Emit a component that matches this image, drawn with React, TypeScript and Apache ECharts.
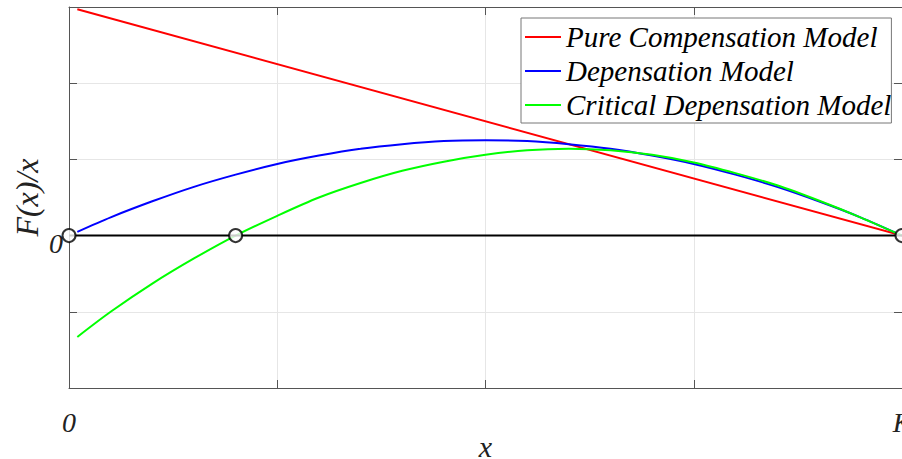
import React, { useEffect, useRef } from "react";
import * as echarts from "echarts";

// x as a fraction of K
const xs = [0.01, 0.05, 0.1, 0.15, 0.2, 0.25, 0.3, 0.35, 0.4, 0.45, 0.5, 0.55, 0.6, 0.65, 0.7, 0.75, 0.8, 0.85, 0.9, 0.95, 1.0];
const pureX = [0.01, 1.0];
const pureY = [2.97, 0.0];
const depensationY = [0.05, 0.24, 0.45, 0.64, 0.8, 0.94, 1.05, 1.14, 1.2, 1.24, 1.25, 1.24, 1.2, 1.14, 1.05, 0.94, 0.8, 0.64, 0.45, 0.24, 0.0];
const criticalY = [-1.33, -1.0, -0.63, -0.3, 0.0, 0.26, 0.5, 0.69, 0.85, 0.97, 1.06, 1.12, 1.14, 1.12, 1.06, 0.96, 0.82, 0.66, 0.46, 0.24, 0.0];
const zeroLineX = [0, 1];
const equilibriaX = [0, 0.2, 1];
const seriesNames = ["Pure Compensation Model", "Depensation Model", "Critical Depensation Model"];
const xTickLabels: Record<string, string> = { "0": "0", "1": "K" };
const yTickLabels: Record<string, string> = { "0": "0" };

const serif = "Liberation Serif";

export default function App() {
  const ref = useRef<HTMLDivElement>(null);
  useEffect(() => {
    if (!ref.current) return;
    const chart = echarts.init(ref.current, undefined, { renderer: "svg" });
    const axisLineStyle = { color: "#555", width: 1 };
    const gridLine = { show: true, lineStyle: { color: "#e6e6e6", width: 1 } };
    chart.setOption({
      animation: false,
      backgroundColor: "#fff",
      grid: { left: 69, top: 7, width: 833, height: 381, containLabel: false, outerBoundsMode: "none" },
      legend: {
        data: seriesNames,
        orient: "vertical",
        left: 521,
        top: 18,
        backgroundColor: "#fff",
        borderColor: "#777",
        borderWidth: 1,
        borderRadius: 0,
        padding: [2, 0, 1, 4],
        itemGap: 0,
        itemWidth: 36,
        itemHeight: 2,
        icon: "rect",
        selectedMode: false,
        textStyle: {
          fontFamily: serif,
          fontStyle: "italic",
          fontSize: 29,
          color: "#000",
          lineHeight: 16,
          padding: [18, 0, 0, 0],
        },
      },
      xAxis: [
        {
          type: "value",
          min: 0,
          max: 1,
          interval: 0.25,
          name: "x",
          nameLocation: "middle",
          nameGap: 48,
          nameMoveOverlap: false,
          nameTextStyle: { fontFamily: serif, fontStyle: "italic", fontSize: 30, lineHeight: 20, color: "#222" },
          axisLine: { show: true, onZero: false, lineStyle: axisLineStyle },
          axisTick: { show: true, inside: true, length: 8, lineStyle: axisLineStyle },
          splitLine: gridLine,
          axisLabel: {
            show: true,
            showMinLabel: true,
            showMaxLabel: true,
            margin: 20,
            fontFamily: serif,
            fontStyle: "italic",
            fontSize: 28,
            color: "#222",
            formatter: (v: number) => xTickLabels[String(v)] ?? "",
          },
        },
        {
          type: "value",
          position: "top",
          min: 0,
          max: 1,
          interval: 0.25,
          axisLine: { show: true, onZero: false, lineStyle: axisLineStyle },
          axisTick: { show: true, inside: true, length: 8, lineStyle: axisLineStyle },
          splitLine: { show: false },
          axisLabel: { show: false },
        },
      ],
      yAxis: [
        {
          type: "value",
          min: -2,
          max: 3,
          interval: 1,
          name: "F(x)/x",
          nameLocation: "middle",
          nameGap: 26,
          nameMoveOverlap: false,
          nameTextStyle: { fontFamily: serif, fontStyle: "italic", fontSize: 32, color: "#222" },
          axisLine: { show: true, onZero: false, lineStyle: axisLineStyle },
          axisTick: { show: true, inside: true, length: 8, lineStyle: axisLineStyle },
          splitLine: gridLine,
          axisLabel: {
            show: true,
            margin: 6,
            fontFamily: serif,
            fontStyle: "italic",
            fontSize: 28,
            lineHeight: 16,
            color: "#222",
            formatter: (v: number) => {
              const s = yTickLabels[String(v)];
              return s ? "\n" + s : "";
            },
          },
        },
        {
          type: "value",
          position: "right",
          min: -2,
          max: 3,
          interval: 1,
          axisLine: { show: true, onZero: false, lineStyle: axisLineStyle },
          axisTick: { show: true, inside: true, length: 8, lineStyle: axisLineStyle },
          splitLine: { show: false },
          axisLabel: { show: false },
        },
      ],
      series: [
        {
          name: seriesNames[0],
          type: "line",
          data: pureX.map((x, i) => [x, pureY[i]]),
          symbol: "none",
          lineStyle: { color: "#ff0000", width: 2 },
          itemStyle: { color: "#ff0000" },
          z: 3,
        },
        {
          name: seriesNames[1],
          type: "line",
          data: xs.map((x, i) => [x, depensationY[i]]),
          symbol: "none",
          smooth: 0.3,
          lineStyle: { color: "#0000ff", width: 2 },
          itemStyle: { color: "#0000ff" },
          z: 3,
        },
        {
          name: seriesNames[2],
          type: "line",
          data: xs.map((x, i) => [x, criticalY[i]]),
          symbol: "none",
          smooth: 0.3,
          lineStyle: { color: "#00ff00", width: 2 },
          itemStyle: { color: "#00ff00" },
          z: 3,
        },
        {
          name: "zero",
          type: "line",
          data: zeroLineX.map((x) => [x, 0]),
          symbol: "none",
          lineStyle: { color: "#000", width: 2 },
          z: 4,
        },
        {
          name: "equilibria",
          type: "scatter",
          data: equilibriaX.map((x) => [x, 0]),
          symbol: "circle",
          symbolSize: 13,
          itemStyle: { color: "#fff", borderColor: "#000", borderWidth: 2 },
          z: 5,
        },
      ],
    });
    return () => chart.dispose();
  }, []);
  return (
    <div
      ref={ref}
      style={{ position: "fixed", left: 0, top: 0, width: 902, height: 459, background: "#fff" }}
    />
  );
}
